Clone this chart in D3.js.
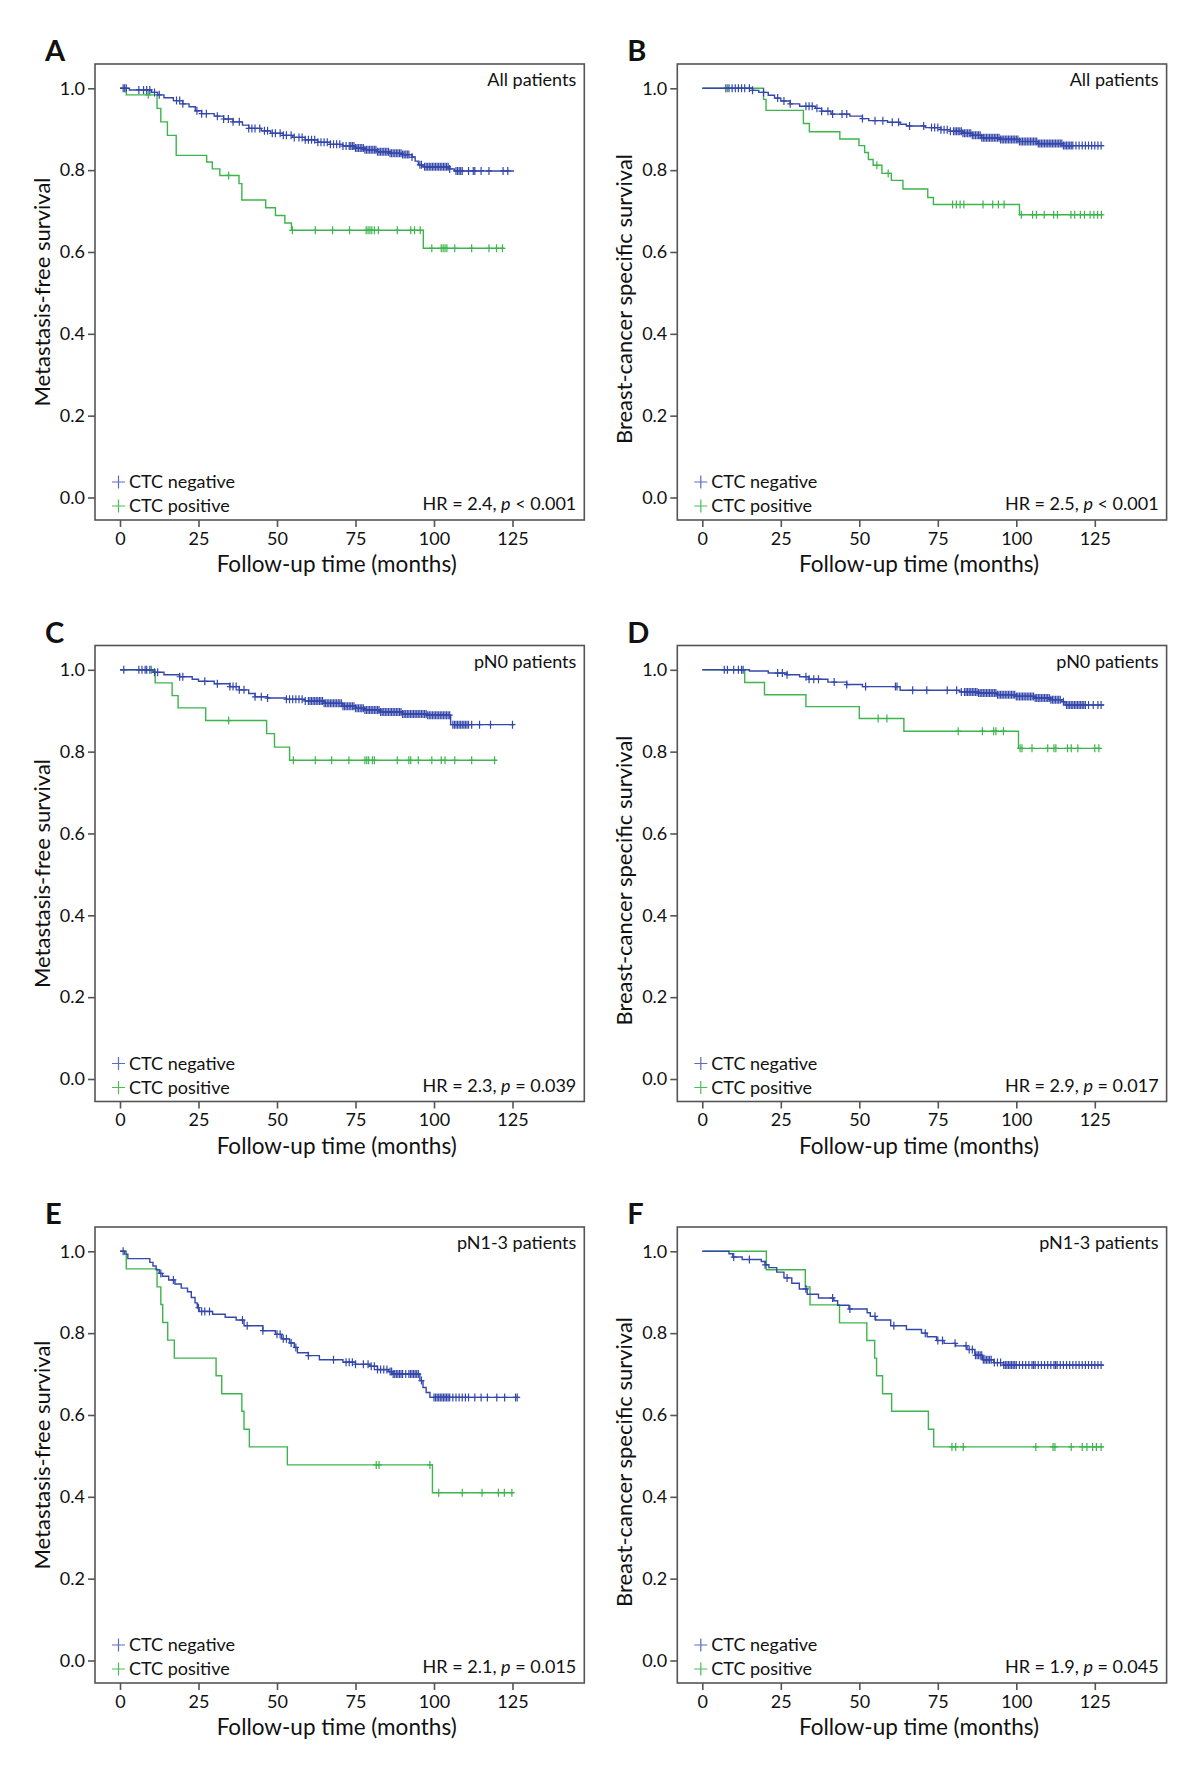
<!DOCTYPE html>
<html>
<head>
<meta charset="utf-8">
<script src="https://cdn.jsdelivr.net/npm/d3@7"></script>
<style>
  body { margin: 0; background: #fff; }
  svg text { font-family: Lato, "Open Sans", sans-serif; fill: #111; }
</style>
</head>
<body>
<div id="plot"></div>
<script>
// axis ticks + labels
var xTicks = [0, 25, 50, 75, 100, 125];
var yTicks = [0, 0.2, 0.4, 0.6, 0.8, 1.0];
var groupNames = ["CTC negative", "CTC positive"];
var letters = ["A", "B", "C", "D", "E", "F"];
var subsets = ["All patients", "All patients", "pN0 patients", "pN0 patients", "pN1-3 patients", "pN1-3 patients"];
var yTitles = ["Metastasis-free survival", "Breast-cancer specific survival"];
var hrText = ["HR = 2.4", "HR = 2.5", "HR = 2.3", "HR = 2.9", "HR = 2.1", "HR = 1.9"];
var pText = ["< 0.001", "< 0.001", "= 0.039", "= 0.017", "= 0.015", "= 0.045"];

// survival steps: [month, survival after drop]; censor = months of censored cases
var aNegSteps = [[3,0.996],[10,0.99],[12,0.984],[14,0.977],[17,0.97],[20,0.962],[22,0.955],[24,0.945],[26,0.938],[30,0.932],[33,0.925],[36,0.918],[39,0.91],[41,0.902],[45,0.896],[48,0.89],[52,0.885],[55,0.88],[59,0.874],[63,0.868],[67,0.863],[71,0.859],[75,0.854],[78,0.85],[82,0.845],[86,0.841],[90,0.838],[93,0.832],[94,0.822],[95,0.813],[96.5,0.808],[105,0.803],[106.5,0.798]];
var aNegCensor = [1,1.5,2,6,7.5,8.5,9.5,11,12.5,18,19,20,24.5,26,27.5,31,33,34.5,36,38,41,42,43,44.5,46,47,48.5,49.5,51,52,53,54.5,55.5,57,58,59,60,61,62,63,64,65,66,67,68,69,70,71,72,73,73.5,74,74.5,75,75.5,76,76.5,77,77.5,78,78.5,79,79.5,80,80.5,81,81.5,82,82.5,83,83.5,84,84.5,85,85.5,86,86.5,87,87.5,88,88.5,89,89.5,90,90.5,91,91.5,92,93,95.5,96,97,97.5,98,98.5,99,99.5,100,100.5,101,101.5,102,102.5,103,103.5,104,104.5,105,107,107.5,108,108.5,109,111,112.5,113,115,117.5,122,123.5];
var aNegEnd = 125.5;
var aPosSteps = [[2,0.984],[11.8,0.951],[13,0.918],[15.1,0.885],[17.9,0.836],[27.6,0.82],[29.4,0.803],[31.8,0.787],[37.9,0.767],[38.8,0.727],[46.4,0.708],[49.5,0.689],[52.5,0.671],[54.6,0.653],[96.6,0.609]];
var aPosCensor = [9,34.6,54.9,62.2,67.7,73.1,78.4,79,79.6,80.2,81,82.3,88.3,92.6,93.8,95.6,99.3,102.3,102.9,103.5,104.1,106.6,112,117.5,119.9,121.8];
var aPosEnd = 122.4;

var bNegSteps = [[16,0.995],[18,0.99],[21,0.983],[23,0.976],[25,0.969],[28,0.962],[31,0.956],[36,0.951],[38,0.944],[41,0.937],[47,0.932],[51,0.926],[53,0.921],[59,0.917],[63,0.912],[65,0.908],[71,0.904],[76,0.899],[79,0.895],[83,0.89],[86,0.885],[89,0.879],[95,0.875],[101,0.87],[107,0.865],[115,0.86]];
var bNegCensor = [7.5,8.5,9.5,10.5,11.5,12.5,13.5,15,16,19.5,24,26,28,33,34,35,36.5,38,40,41.5,44.5,46,51,55,57.5,60.5,62.5,66,70.5,73,74,75,76,77,78,79,80,80.5,81,81.5,82,82.5,83,83.5,84,84.5,85,85.5,86,86.5,87,87.5,88,88.5,89,89.5,90,90.5,91,91.5,92,92.5,93,93.5,94,94.5,95,95.5,96,96.5,97,97.5,98,98.5,99,99.5,100,100.5,101,101.5,102,102.5,103,103.5,104,104.5,105,105.5,106,106.5,107,107.5,108,108.5,109,109.5,110,110.5,111,111.5,112,112.5,113,113.5,114,114.5,115,115.5,116,116.5,117,117.5,118,119,120,121,122,123,124,125,126,127];
var bNegEnd = 128;
var bPosSteps = [[19.5,0.973],[20.3,0.946],[32.2,0.914],[34.1,0.894],[43.8,0.876],[49.9,0.86],[51.7,0.843],[52.9,0.826],[54.4,0.812],[57.2,0.792],[60.2,0.775],[63.9,0.754],[71.8,0.733],[73.6,0.716],[101,0.691]];
var bPosCensor = [8,55.6,59.2,79.7,80.9,82.1,83.3,89.4,92.5,94.3,96.1,101.6,105.2,106.4,108.9,111.9,113.1,117.4,118.6,120.4,121.7,123.5,124.7,125.9,127.1];
var bPosEnd = 127.7;

var cNegSteps = [[10.5,0.994],[14,0.988],[19,0.983],[23,0.977],[25,0.972],[30,0.966],[35,0.959],[38,0.951],[41,0.942],[43,0.934],[47,0.931],[53,0.928],[59,0.924],[65,0.918],[71,0.911],[75,0.906],[78,0.902],[83,0.897],[90,0.892],[98,0.889],[105.3,0.866]];
var cNegCensor = [1.2,6,7,8,8.5,9.5,11,12,19,20,27,31,35,36,37,38,39.5,43,45,47,53,54,55,56,57,58,59,60,60.5,61,61.5,62,62.5,63,63.5,64,64.5,65,65.5,66,66.5,67,67.5,68,68.5,69,69.5,70,70.5,71,71.5,72,72.5,73,73.5,74,74.5,75,75.5,76,76.5,77,77.5,78,78.5,79,79.5,80,80.5,81,81.5,82,82.5,83,83.5,84,84.5,85,85.5,86,86.5,87,87.5,88,88.5,89,89.5,90,90.5,91,91.5,92,92.5,93,93.5,94,94.5,95,95.5,96,96.5,97,97.5,98,98.5,99,99.5,100,100.5,101,101.5,102,102.5,103,103.5,104,104.5,105,106,106.5,107,107.5,108,108.5,109,109.5,110,110.5,111,112,114.5,118,125];
var cNegEnd = 125.5;
var cPosSteps = [[11.2,0.968],[16.6,0.937],[18.5,0.907],[27.3,0.876],[46.7,0.844],[49.2,0.811],[54,0.779]];
var cPosCensor = [10,34.6,55.2,62.2,67.4,72.9,78,78.6,79.2,80.4,81,88.3,92,92.6,95,99.3,102.3,103.5,106.6,112,119.3];
var cPosEnd = 120;

var dNegSteps = [[15,0.997],[21,0.992],[27,0.988],[31,0.983],[34,0.977],[40,0.97],[46,0.964],[51,0.959],[63,0.95],[82,0.946],[88,0.943],[94,0.939],[100,0.935],[106,0.931],[111,0.927],[114.5,0.922],[115.5,0.914]];
var dNegCensor = [7,8,10,11.5,12.5,13,24,25.5,27,33,34,35.5,37,42,46,52,61.5,62,67,71.5,78,81,82.5,83.5,84,84.5,85,85.5,86,86.5,87,87.5,88,88.5,89,89.5,90,90.5,91,91.5,92,92.5,93,93.5,94,94.5,95,95.5,96,96.5,97,97.5,98,98.5,99,99.5,100,100.5,101,101.5,102,102.5,103,103.5,104,104.5,105,105.5,106,106.5,107,107.5,108,108.5,109,109.5,110,110.5,111,111.5,112,112.5,113,113.5,114,115,116,116.5,117,117.5,118,118.5,119,119.5,120,120.5,121,121.5,122,123,124.5,126,127];
var dNegEnd = 128;
var dPosSteps = [[13.5,0.969],[19.8,0.939],[33,0.91],[50,0.881],[64.2,0.85],[100.7,0.808]];
var dPosCensor = [56,58.8,81.5,89.2,92.8,93.5,95.9,101.2,101.8,105,110,112,112.6,116.3,117.5,119.6,125,126.3];
var dPosEnd = 126.9;

var eNegSteps = [[1.5,0.993],[2.5,0.982],[9.5,0.973],[10.5,0.964],[11.5,0.955],[12.5,0.946],[13.5,0.939],[15.5,0.93],[17.5,0.92],[19.5,0.91],[21.5,0.901],[22.7,0.887],[23.9,0.874],[24.6,0.862],[25.2,0.853],[29.5,0.846],[33.5,0.839],[37,0.832],[39.5,0.818],[45.5,0.806],[49.5,0.797],[51.5,0.786],[54,0.776],[55.5,0.765],[56.5,0.752],[60,0.745],[63.5,0.735],[71,0.729],[75,0.724],[79.5,0.719],[82,0.711],[85.5,0.706],[87,0.7],[95.5,0.684],[96.5,0.667],[97.5,0.655],[98.7,0.643]];
var eNegCensor = [1,13,17,25,26,27,28.5,39,40.5,45.5,50,51,52,53,54.5,56,60,68,72,73,74,75,77.5,79,80,81,82,83,84,85,86,86.5,87,87.5,88,88.5,89,89.5,90,91,92,92.5,93,93.5,94,94.5,95,96,100,100.5,101,101.5,102,102.5,103,103.5,104,104.5,105,106,107,108,109,110,111,113,115,117,120,122.5,126,126.5];
var eNegEnd = 127;
var ePosSteps = [[2,0.957],[11.8,0.913],[13,0.87],[13.6,0.826],[15.2,0.783],[17.3,0.739],[30.6,0.696],[32.4,0.652],[38.8,0.609],[39.5,0.565],[41.2,0.522],[53.3,0.478],[99.5,0.41]];
var ePosCensor = [81.6,82.5,98.7,101.5,109,115.3,120.5,122.4,124.8];
var ePosEnd = 125.4;

var fNegSteps = [[8.5,0.994],[9.7,0.986],[12.7,0.98],[18.8,0.975],[20,0.967],[21.2,0.96],[23.7,0.949],[26,0.935],[28.5,0.922],[30.9,0.908],[33.4,0.895],[37,0.886],[41.9,0.879],[43.1,0.868],[46.7,0.859],[52.5,0.85],[53.5,0.841],[55.2,0.832],[60,0.818],[65,0.809],[69.8,0.8],[71.6,0.791],[74.6,0.782],[77,0.775],[80.7,0.769],[84.3,0.76],[86.8,0.746],[89.2,0.735],[92.8,0.728],[95.9,0.722]];
var fNegCensor = [10,15,20,27,33,41.5,47,55,61,71,75,76.5,80.5,84,85,86,87,87.5,88,88.5,89,89.5,90,90.5,91,91.5,92,93,94,95,96,96.5,97,97.5,98,98.5,99,99.5,100,101,102,103,104,105,105.5,106,107,108,109,110,111,112,112.5,113,114,115,116,117,118,119,120,121,122,123,124,125,126,127];
var fNegEnd = 127.8;
var fPosSteps = [[20.4,0.955],[32.8,0.913],[34.3,0.869],[43.7,0.825],[52.4,0.782],[54.9,0.739],[55.5,0.696],[57.4,0.652],[60.3,0.609],[72,0.565],[73.7,0.522]];
var fPosCensor = [79.5,80.7,83.1,106.2,111.7,112.3,117.5,121,122.5,124.3,125.5,127];
var fPosEnd = 127.8;

var curves = [
  [[aNegSteps, aNegCensor, aNegEnd], [aPosSteps, aPosCensor, aPosEnd]],
  [[bNegSteps, bNegCensor, bNegEnd], [bPosSteps, bPosCensor, bPosEnd]],
  [[cNegSteps, cNegCensor, cNegEnd], [cPosSteps, cPosCensor, cPosEnd]],
  [[dNegSteps, dNegCensor, dNegEnd], [dPosSteps, dPosCensor, dPosEnd]],
  [[eNegSteps, eNegCensor, eNegEnd], [ePosSteps, ePosCensor, ePosEnd]],
  [[fNegSteps, fNegCensor, fNegEnd], [fPosSteps, fPosCensor, fPosEnd]]
];

var colors = ["#3447aa", "#3cb54c"];
var legendColors = ["#5b6dbf", "#4cbc5a"];

var W = 1200, H = 1768;
var frameW = 489.3, frameH = 456;
var colX = [95, 677.3], rowY = [64, 645.5, 1227];

var svg = d3.select("#plot").append("svg")
  .attr("width", W).attr("height", H);

function survAt(steps, t) {
  var s = 1;
  steps.forEach(function(d) { if (d[0] <= t) s = d[1]; });
  return s;
}

function drawPanel(i) {
  var col = i % 2, row = Math.floor(i / 2);
  var g = svg.append("g")
    .attr("transform", "translate(" + colX[col] + "," + rowY[row] + ")");

  var x = d3.scaleLinear().domain([0, 125]).range([25, 417.5]);
  var y = d3.scaleLinear().domain([0, 1]).range([433.5, 24.3]);

  var line = d3.line()
    .x(function(d) { return x(d[0]); })
    .y(function(d) { return y(d[1]); })
    .curve(d3.curveStepAfter);

  // negative drawn last so it sits on top
  [1, 0].forEach(function(k) {
    var c = curves[i][k];
    var steps = c[0], cens = c[1], end = c[2];
    var pts = [[0, 1]].concat(steps).concat([[end, steps[steps.length - 1][1]]]);
    g.append("path")
      .attr("d", line(pts))
      .attr("fill", "none")
      .attr("stroke", colors[k])
      .attr("stroke-width", 1.4);
    g.append("g").selectAll("path")
      .data(cens)
      .enter()
      .append("path")
      .attr("d", function(t) {
        var cx = x(t), cy = y(survAt(steps, t));
        return "M" + (cx - 3) + "," + cy + "H" + (cx + 3) + "M" + cx + "," + (cy - 4) + "V" + (cy + 4);
      })
      .attr("stroke", colors[k])
      .attr("stroke-width", 1.2);
  });

  // frame
  g.append("rect")
    .attr("width", frameW).attr("height", frameH)
    .attr("fill", "none").attr("stroke", "#555").attr("stroke-width", 1.6);

  var yAxis = d3.axisLeft(y).tickValues(yTicks).tickFormat(d3.format(".1f"))
    .tickSize(7).tickPadding(3).tickSizeOuter(0);
  var xAxis = d3.axisBottom(x).tickValues(xTicks).tickFormat(d3.format("d"))
    .tickSize(7).tickPadding(5).tickSizeOuter(0);

  var ya = g.append("g").call(yAxis);
  var xa = g.append("g").attr("transform", "translate(0," + frameH + ")").call(xAxis);
  [ya, xa].forEach(function(a) {
    a.select(".domain").remove();
    a.selectAll("line").attr("stroke", "#555").attr("stroke-width", 1.6);
    a.selectAll("text").style("font-size", "18px").style("font-family", "Lato, sans-serif").attr("fill", "#111");
  });

  g.append("text")
    .attr("x", -50).attr("y", -3)
    .style("font-size", "29px").style("font-weight", "bold")
    .text(letters[i]);

  g.append("text")
    .attr("x", frameW - 8).attr("y", 22)
    .attr("text-anchor", "end")
    .style("font-size", "18px")
    .text(subsets[i]);

  var hr = g.append("text")
    .attr("x", frameW - 8).attr("y", 446)
    .attr("text-anchor", "end")
    .style("font-size", "18px");
  hr.append("tspan").text(hrText[i] + ", ");
  hr.append("tspan").style("font-style", "italic").text("p");
  hr.append("tspan").text(" " + pText[i]);

  // legend
  groupNames.forEach(function(name, k) {
    var ly = 418 + k * 24;
    g.append("path")
      .attr("d", "M" + 17 + "," + ly + "H" + 30 + "M" + 23.5 + "," + (ly - 6.5) + "V" + (ly + 6.5))
      .attr("stroke", legendColors[k]).attr("stroke-width", 1.2);
    g.append("text")
      .attr("x", 34).attr("y", ly + 6)
      .style("font-size", "18px")
      .text(name);
  });

  g.append("text")
    .attr("x", frameW / 2 - 3).attr("y", 508)
    .attr("text-anchor", "middle")
    .style("font-size", "22.5px")
    .text("Follow-up time (months)");

  g.append("text")
    .attr("transform", "translate(-45," + (frameH / 2 + (col ? 7 : 0)) + ")rotate(-90)")
    .attr("text-anchor", "middle")
    .style("font-size", "22px")
    .text(yTitles[col]);
}

for (var i = 0; i < 6; i++) drawPanel(i);
</script>
</body>
</html>
